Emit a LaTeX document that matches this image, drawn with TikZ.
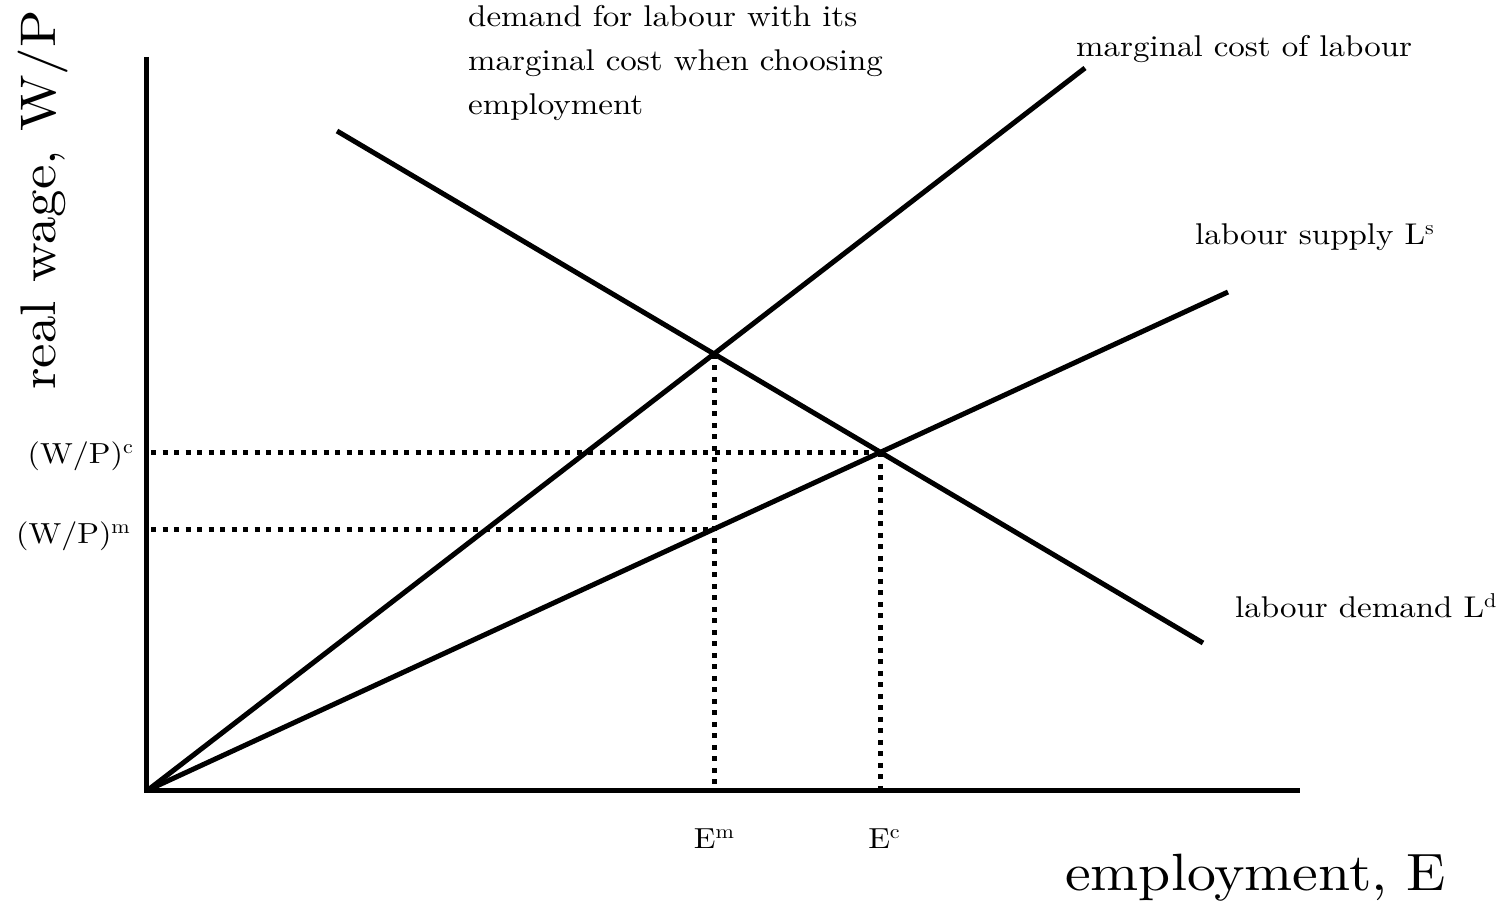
\documentclass[tikz,border=0pt]{standalone}
\usepackage{fontspec}
\setmainfont{lmroman10-regular}[Extension=.otf, FakeStretch=1.1]
\newcommand\sups[1]{\raisebox{10pt}{\fontsize{20}{20}\selectfont #1}}
\begin{document}
\begin{tikzpicture}[x=1pt,y=-1pt,
  axis/.style={line width=5pt, line join=miter},
  curve/.style={line width=5pt},
  guide/.style={line width=5pt, dash pattern=on 5pt off 6.5pt},
  lbl/.style={inner sep=0pt, font=\fontsize{30}{44}\selectfont},
  tick/.style={inner sep=0pt, font=\fontsize{29}{36}\selectfont},
  big/.style={inner sep=0pt, font=\fontsize{52.5}{60}\selectfont},
  bigv/.style={inner sep=0pt, font=\fontsize{50}{60}\selectfont}]
\useasboundingbox (0,0) rectangle (1505,904);
% key points
\coordinate (ytop) at (146,57);
\coordinate (corner) at (146,790);
\coordinate (xend) at (1300,790);
\coordinate (O) at (148,790);
\coordinate (yedge) at (151,790);
\coordinate (mcend) at (1085,68);
\coordinate (send) at (1228,292);
\coordinate (dstart) at (337,131);
\coordinate (dend) at (1203,643);
\coordinate (A) at (intersection of O--mcend and dstart--dend);
\coordinate (B) at (intersection of O--send and dstart--dend);
\coordinate (Abot) at (A |- O);
\coordinate (Bbot) at (B |- O);
\coordinate (C) at (intersection of O--send and A--Abot);
% axes
\draw[axis] (ytop) -- (corner) -- (xend);
% curves
\draw[curve] (O) -- (mcend);
\draw[curve] (O) -- (send);
\draw[curve] (dstart) -- (dend);
% guides
\draw[guide] (yedge |- B) -- (B);
\draw[guide] (yedge |- C) -- (C);
\draw[guide] (A) -- (Abot);
\draw[guide] (B) -- (Bbot);
% labels
\node[bigv, rotate=90, anchor=base west] (ylab) at (55,390) {real wage, W/P};
\node[big, anchor=base west] (xlab) at (1065,890) {employment, E};
\node[lbl, align=left, anchor=base west] (note) at (468,115) {demand for labour with its\\marginal cost when choosing\\employment};
\node[lbl, anchor=base west] (mclab) at (1076,57) {marginal cost of labour};
\node[lbl, anchor=base west] (slab) at (1195,245) {labour supply L\sups{s}};
\node[lbl, anchor=base west] (dlab) at (1235,617) {labour demand L\sups{d}};
\node[tick, anchor=base east] (wc) at (133,463) {(W/P)\sups{c}};
\node[tick, anchor=base east] (wm) at (130,543) {(W/P)\sups{m}};
\node[tick, anchor=base] (em) at (714,848) {E\sups{m}};
\node[tick, anchor=base] (ec) at (884,848) {E\sups{c}};
\end{tikzpicture}
\end{document}
